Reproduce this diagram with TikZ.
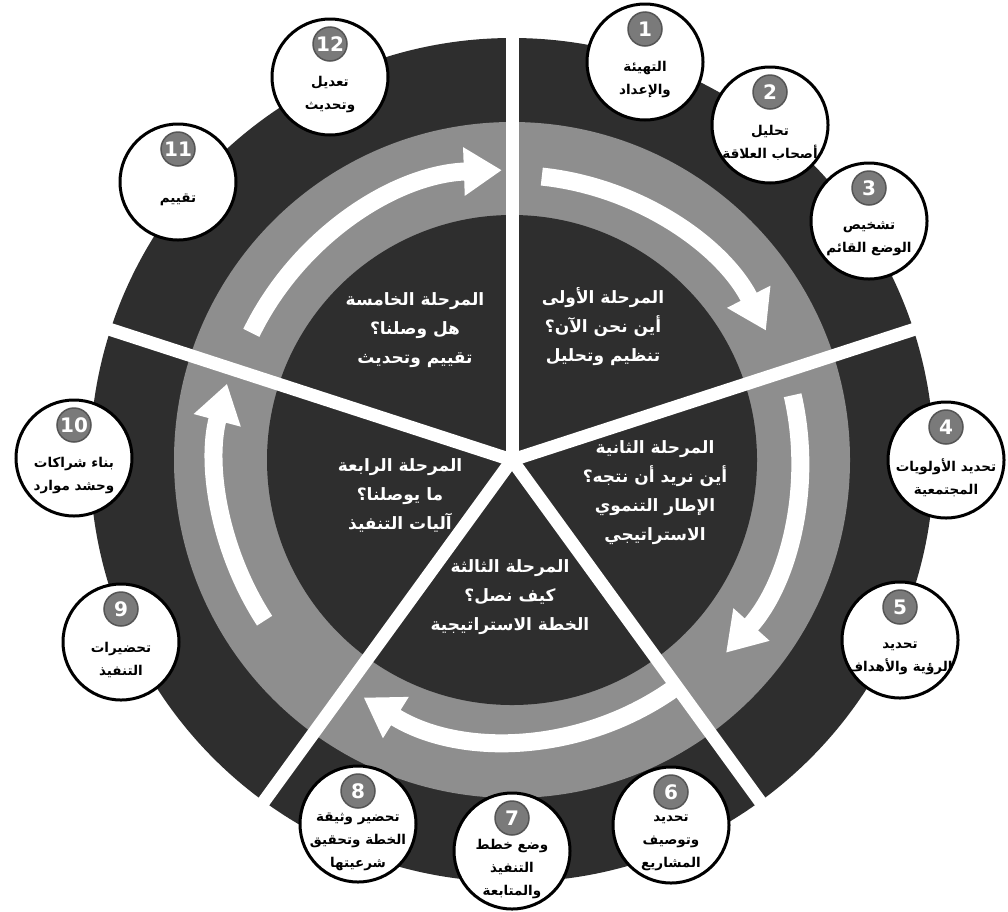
\documentclass[tikz,border=0pt]{standalone}
\usepackage{fontspec}
\setmainfont{DejaVu Sans}
\newfontfamily\arabicfont[Script=Arabic]{DejaVu Sans}
\TeXXeTstate=1
\usetikzlibrary{arrows.meta}
\newcommand{\ar}[1]{{\arabicfont\bfseries\beginR #1\endR}}
\definecolor{darkfill}{HTML}{2E2E2E}
\definecolor{ringgray}{HTML}{8E8E8E}
\definecolor{badgegray}{HTML}{7A7A7A}
\tikzset{
  satcircle/.style={circle,draw=black,line width=3pt,fill=white,minimum size=116pt,inner sep=0pt},
  badge/.style={circle,fill=badgegray,draw=badgegray!70!black,line width=1.5pt,minimum size=34pt,inner sep=0pt,text=white,font=\fontsize{20}{20}\selectfont\bfseries},
  sattext/.style={align=center,text=black,font=\fontsize{13.5}{23}\selectfont,inner sep=0pt},
  phasetext/.style={align=center,text=white,font=\fontsize{17}{29}\selectfont,inner sep=0pt},
  divider/.style={white,line width=13pt},
  ringarrow/.style={white,line width=18pt,-{Triangle[width=46pt,length=38pt]}}
}
\newcommand{\sat}[5]{%
  \node[satcircle] (s#1) at (#3,#4) {};
  \node[badge] (b#1) at ([yshift=33pt]s#1.center) {#2};
  \node[sattext] (t#1) at ([yshift=-18pt]s#1.center) {#5};
}
\begin{document}
\begin{tikzpicture}[x=1pt,y=-1pt]
\useasboundingbox (0,0) rectangle (1008,911);
\fill[white] (0,0) rectangle (1008,911);
\coordinate (ctr) at (512,460);
% discs
\fill[darkfill] (ctr) circle[radius=422];
\fill[ringgray] (ctr) circle[radius=338];
\fill[darkfill] (ctr) circle[radius=245];
% ring arrows
\draw[ringarrow] ([shift={(-84:285)}]ctr) arc[start angle=-84,end angle=-27,radius=285];
\draw[ringarrow] ([shift={(-13:288)}]ctr) arc[start angle=-13,end angle=42,radius=288];
\draw[ringarrow] ([shift={(53:280)}]ctr) arc[start angle=53,end angle=122,radius=280];
\draw[ringarrow] ([shift={(147:295)}]ctr) arc[start angle=147,end angle=195,radius=295];
\draw[ringarrow] ([shift={(-154:290)}]ctr) arc[start angle=-154,end angle=-92,radius=290];
% dividers
\foreach \a [count=\i] in {-90,-162,126,54,-18}{
  \coordinate (d\i) at ([shift={(\a:430)}]ctr);
  \draw[divider] (ctr) -- (d\i);
}
% phase texts
\node[phasetext] (p1) at (603,327) {\ar{المرحلة الأولى}\\\ar{أين نحن الآن؟}\\\ar{تنظيم وتحليل}};
\node[phasetext] (p2) at (655,493) {\ar{المرحلة الثانية}\\\ar{أين نريد أن نتجه؟}\\\ar{الإطار التنموي}\\\ar{الاستراتيجي}};
\node[phasetext] (p3) at (510,597) {\ar{المرحلة الثالثة}\\\ar{كيف نصل؟}\\\ar{الخطة الاستراتيجية}};
\node[phasetext] (p4) at (400,495) {\ar{المرحلة الرابعة}\\\ar{ما يوصلنا؟}\\\ar{آليات التنفيذ}};
\node[phasetext] (p5) at (415,330) {\ar{المرحلة الخامسة}\\\ar{هل وصلنا؟}\\\ar{تقييم وتحديث}};
% satellites
\sat{1}{1}{645}{62}{\ar{التهيئة}\\\ar{والإعداد}}
\sat{2}{2}{770}{125}{\ar{تحليل}\\\ar{أصحاب العلاقة}}
\sat{3}{3}{869}{221}{\ar{تشخيص}\\\ar{الوضع القائم}}
\sat{4}{4}{946}{460}{\ar{تحديد الأولويات}\\\ar{المجتمعية}}
\sat{5}{5}{900}{640}{\ar{تحديد}\\\ar{الرؤية والأهداف}}
\sat{6}{6}{671}{825}{\ar{تحديد}\\\ar{وتوصيف}\\\ar{المشاريع}}
\sat{7}{7}{512}{851}{\ar{وضع خطط}\\\ar{التنفيذ}\\\ar{والمتابعة}}
\sat{8}{8}{358}{824}{\ar{تحضير وثيقة}\\\ar{الخطة وتحقيق}\\\ar{شرعيتها}}
\sat{9}{9}{121}{642}{\ar{تحضيرات}\\\ar{التنفيذ}}
\sat{10}{10}{74}{458}{\ar{بناء شراكات}\\\ar{وحشد موارد}}
\sat{11}{11}{178}{182}{\ar{تقييم}}
\sat{12}{12}{330}{77}{\ar{تعديل}\\\ar{وتحديث}}
\end{tikzpicture}
\end{document}
